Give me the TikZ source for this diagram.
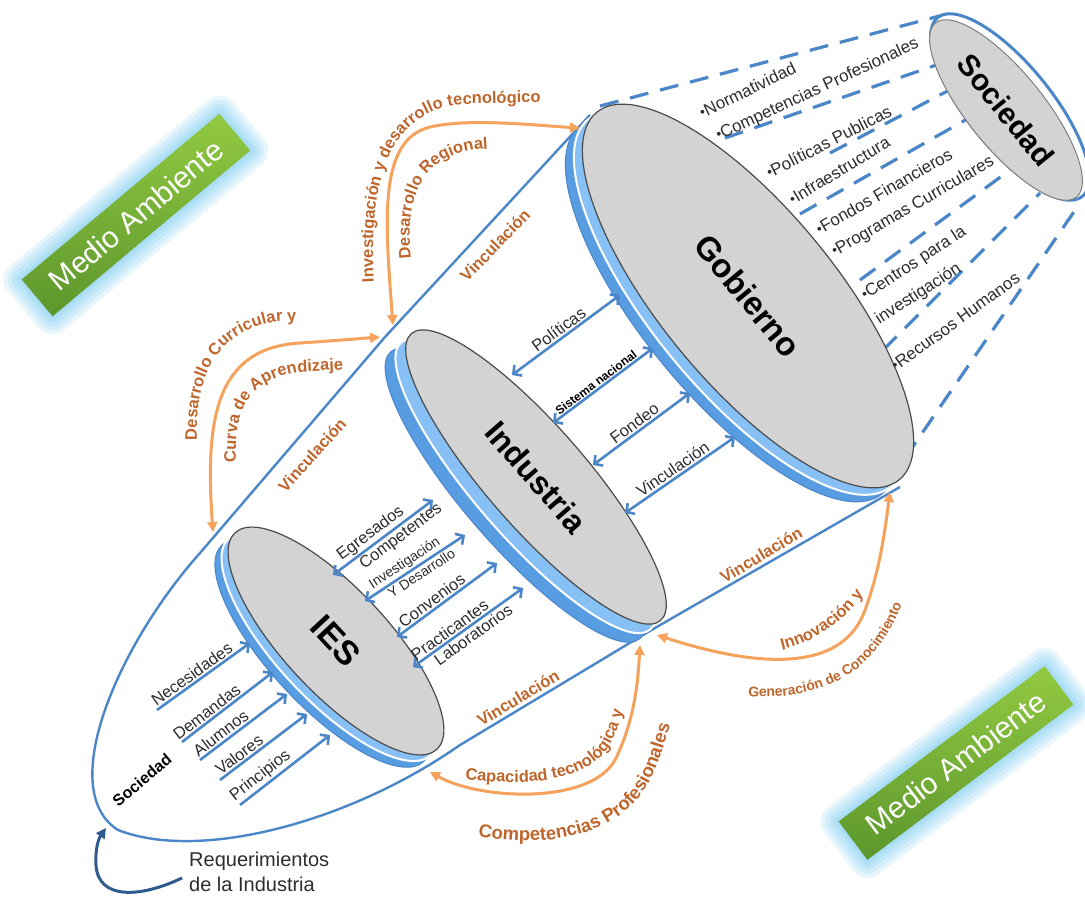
\documentclass[tikz,border=0pt]{standalone}
\usepackage{fontspec}
\setmainfont{Liberation Sans}
\usetikzlibrary{shapes.geometric,arrows.meta,decorations.text}
\definecolor{lblue}{RGB}{74,134,200}
\definecolor{rimA}{RGB}{88,156,226}
\definecolor{rimB}{RGB}{135,192,245}
\definecolor{faceg}{RGB}{211,211,211}
\definecolor{faced}{RGB}{75,75,75}
\definecolor{oarrow}{RGB}{244,162,92}
\definecolor{otext}{RGB}{190,102,44}
\definecolor{tgray}{RGB}{45,45,45}
\definecolor{gtop}{RGB}{146,202,66}
\definecolor{gbot}{RGB}{92,150,44}
\definecolor{glowc}{RGB}{110,200,240}
\definecolor{reqblue}{RGB}{47,92,140}
\newcommand\fsz[1]{\fontsize{#1}{#1}\selectfont}
\newcommand\ofont{\bfseries\fontsize{16.5}{16.5}\selectfont}
\newcommand\ofontbig{\bfseries\fontsize{18.5}{18.5}\selectfont}
\newcommand\ofontsm{\bfseries\fontsize{14}{14}\selectfont}
\newcommand\bdot{{\fsz{14}\raisebox{1pt}{•}}}
\begin{document}
\begin{tikzpicture}[x=1pt,y=-1pt,
  face/.style={ellipse, inner sep=0pt, fill=faceg, draw=faced, line width=1.2pt},
  rimo/.style={ellipse, inner sep=0pt, fill=rimA, draw=lblue, line width=1pt},
  rimi/.style={ellipse, inner sep=0pt, fill=rimB, draw=white, line width=2pt},
  outl/.style={draw=lblue, line width=2.4pt},
  dsh/.style={draw=lblue, line width=3.2pt, dash pattern=on 19pt off 12pt},
  barrow/.style={draw=lblue, line width=2.6pt, {Straight Barb[length=6pt,width=13pt]}-{Straight Barb[length=6pt,width=13pt]}},
  inarrow/.style={draw=lblue, line width=2.6pt, -{Straight Barb[length=6pt,width=13pt]}},
  oarr/.style={draw=oarrow, line width=3pt, {Triangle[length=10pt,width=10pt]}-{Triangle[length=10pt,width=10pt]}},
  lab/.style={text=tgray, font=\fsz{16.5}, inner sep=1.5pt},
  labs/.style={text=tgray, font=\fsz{14}, inner sep=1.5pt},
  vin/.style={text=otext, font=\bfseries\fsz{16.5}},
  bul/.style={text=tgray, font=\fsz{17}, anchor=west, inner sep=0pt},
  otp/.style={decorate, decoration={text along path, text color=otext, text={#1}}},
  glowl/.style={rectangle, rounded corners=#1, fill=glowc, fill opacity=0.16, draw=none, inner sep=0pt},
  mabox/.style={rectangle, inner sep=0pt, minimum width=258, minimum height=48, top color=gtop, bottom color=gbot, draw=none, text=white, font=\fsz{30}}
]
\useasboundingbox (0,0) rectangle (1085,897);
\fill[white] (0,0) rectangle (1085,897);

% ---------- Medio Ambiente boxes ----------
\foreach \g in {18,14,10,6,3} {
  \node[glowl=\g pt, rotate=40, minimum width=258+2*\g, minimum height=48+2*\g] (gla\g) at (136,215) {};
  \node[glowl=\g pt, rotate=37, minimum width=258+2*\g, minimum height=48+2*\g] (glb\g) at (956,763) {};
}
\node[mabox, rotate=40] (ma1) at (136,215) {Medio Ambiente};
\node[mabox, rotate=37] (ma2) at (956,763) {Medio Ambiente};

% ---------- dashed lines Gobierno -> Sociedad ----------
\coordinate (d1a) at (600,106);  \coordinate (d1b) at (947,14);
\coordinate (d2a) at (725,138);  \coordinate (d2b) at (945,62);
\coordinate (d3a) at (830,153);  \coordinate (d3b) at (957,86);
\coordinate (d4a) at (800,214);  \coordinate (d4b) at (967,119);
\coordinate (d5a) at (860,280);  \coordinate (d5b) at (1010,170);
\coordinate (d6a) at (883,350);  \coordinate (d6b) at (1040,193);
\coordinate (d7a) at (905,458);  \coordinate (d7b) at (1080,203);
\foreach \i in {1,...,7} { \draw[dsh] (d\i a) -- (d\i b); }

% ---------- outline (cone) ----------
\coordinate (gT) at (590,115);
\coordinate (iT) at (385,337);
\coordinate (eT) at (200,553);
\coordinate (eB) at (460,745);
\coordinate (iB) at (648,632);
\coordinate (gB) at (900,487);
\draw[outl] (gT) -- (iT) -- (eT) .. controls (118,645) and (55,790) .. (118,830)
  .. controls (200,862) and (350,822) .. (eB) -- (iB) -- (gB);

% ---------- Sociedad (top right) ----------
\node[ellipse, inner sep=0pt, minimum width=230, minimum height=84, rotate=-51, draw=lblue, fill=white, line width=3pt] (socr) at (1010,107) {};
\node[ellipse, inner sep=0pt, minimum width=224, minimum height=76, rotate=-51, fill=faceg, draw=gray, line width=1pt, font=\bfseries\fsz{30}] (soc) at (1006,110) {Sociedad};

% ---------- disks ----------
\node[rimo, minimum width=476, minimum height=174, rotate=-50.5] (gobr1) at (731.0,310.0) {};
\node[rimi, minimum width=476, minimum height=174, rotate=-50.5] (gobr2) at (739.5,303.0) {};
\node[face, minimum width=476, minimum height=174, rotate=-50.5, font=\bfseries\fsz{33}] (gob) at (748,296) {Gobierno};

\node[rimo, minimum width=380, minimum height=100, rotate=-49] (indr1) at (515.4,495.1) {};
\node[rimi, minimum width=380, minimum height=100, rotate=-49] (indr2) at (525.7,486.0) {};
\node[face, minimum width=380, minimum height=100, rotate=-49, font=\bfseries\fsz{32}] (ind) at (536,477) {Industria};

\node[rimo, minimum width=296, minimum height=104, rotate=-47] (iesr1) at (322.8,653.3) {};
\node[rimi, minimum width=296, minimum height=104, rotate=-47] (iesr2) at (329.4,647.1) {};
\node[face, minimum width=296, minimum height=104, rotate=-47, font=\bfseries\fsz{34}] (ies) at (336,641) {IES};

% ---------- bullets near Gobierno ----------
\node[bul, rotate=26] (b1) at (700,113) {\bdot Normatividad};
\node[bul, rotate=25] (b2) at (717,137) {\bdot Competencias Profesionales};
\node[bul, rotate=27] (b3) at (767,173) {\bdot Políticas Publicas};
\node[bul, rotate=31] (b4) at (790,200) {\bdot Infraestructura};
\node[bul, rotate=30] (b5) at (817,230) {\bdot Fondos Financieros};
\node[bul, rotate=30] (b6) at (833,253) {\bdot Programas Curriculares};
\node[bul, rotate=33] (b7) at (863,297) {\bdot Centros para la};
\node[bul, rotate=33] (b7b) at (877,321) {investigación};
\node[bul, rotate=36] (b8) at (893,367) {\bdot Recursos Humanos};

% ---------- Gobierno <-> Industria ----------
\coordinate (gi1a) at (512,375); \coordinate (gi1b) at (620,295);
\coordinate (gi2a) at (553,423); \coordinate (gi2b) at (653,348);
\coordinate (gi3a) at (593,465); \coordinate (gi3b) at (690,393);
\coordinate (gi4a) at (625,513); \coordinate (gi4b) at (735,437);
\draw[barrow] (gi1a) -- node[lab, sloped, above, pos=.48] (lpol) {Políticas} (gi1b);
\draw[barrow] (gi2a) -- node[sloped, above, pos=.47, inner sep=1pt, font=\bfseries\fsz{12}] (lsis) {Sistema nacional} (gi2b);
\draw[barrow] (gi3a) -- node[lab, sloped, above, pos=.48] (lfon) {Fondeo} (gi3b);
\draw[barrow] (gi4a) -- node[lab, sloped, above, pos=.48] (lvin) {Vinculación} (gi4b);

% ---------- Industria <-> IES ----------
\coordinate (ie1a) at (333,575); \coordinate (ie1b) at (433,500);
\coordinate (ie2a) at (365,601); \coordinate (ie2b) at (465,535);
\coordinate (ie3a) at (397,637); \coordinate (ie3b) at (497,563);
\coordinate (ie4a) at (413,667); \coordinate (ie4b) at (523,588);
\draw[barrow] (ie1a) -- node[lab, sloped, above, pos=.44] (legr) {Egresados}
  node[lab, sloped, below, pos=.62] (lcom) {Competentes} (ie1b);
\draw[barrow] (ie2a) -- node[labs, sloped, above, pos=.45] (linv) {Investigación}
  node[labs, sloped, below, pos=.52] (lyde) {Y Desarrollo} (ie2b);
\draw[barrow] (ie3a) -- node[lab, sloped, above, pos=.4] (lcon) {Convenios} (ie3b);
\draw[barrow] (ie4a) -- node[lab, sloped, above, pos=.38] (lpra) {Practicantes}
  node[lab, sloped, below, pos=.5] (llab) {Laboratorios} (ie4b);

% ---------- Sociedad -> IES ----------
\coordinate (s1a) at (157,710); \coordinate (s1b) at (250,643);
\coordinate (s2a) at (182,742); \coordinate (s2b) at (273,672);
\coordinate (s3a) at (200,760); \coordinate (s3b) at (287,694);
\coordinate (s4a) at (220,780); \coordinate (s4b) at (307,714);
\coordinate (s5a) at (240,805); \coordinate (s5b) at (330,735);
\draw[inarrow] (s1a) -- node[lab, sloped, above, pos=.43] (lnec) {Necesidades} (s1b);
\draw[inarrow] (s2a) -- node[lab, sloped, above, pos=.33] (ldem) {Demandas} (s2b);
\draw[inarrow] (s3a) -- node[lab, sloped, above, pos=.3] (lalu) {Alumnos} (s3b);
\draw[inarrow] (s4a) -- node[lab, sloped, above, pos=.28] (lval) {Valores} (s4b);
\draw[inarrow] (s5a) -- node[lab, sloped, above, pos=.3] (lpri) {Principios} (s5b);
\node[font=\bfseries\fsz{16}, rotate=40] (socl) at (142,780) {Sociedad};

% ---------- orange arrows ----------
\coordinate (o1a) at (393,325); \coordinate (o1b) at (580,128);
\coordinate (o2a) at (213,532); \coordinate (o2b) at (380,337);
\coordinate (o3a) at (430,772); \coordinate (o3b) at (640,645);
\coordinate (o4a) at (657,635); \coordinate (o4b) at (890,492);
\draw[oarr] (o1a) .. controls (385,220) and (378,140) .. (430,127) .. controls (470,118) and (530,125) .. (o1b);
\draw[oarr] (o2b) .. controls (355,339) and (330,341) .. (300,343) .. controls (215,348) and (205,420) .. (o2a);
\draw[oarr] (o3a) .. controls (480,800) and (590,805) .. (615,760) .. controls (635,720) and (638,680) .. (o3b);
\draw[oarr] (o4a) .. controls (740,662) and (840,680) .. (865,610) .. controls (880,570) and (885,530) .. (o4b);

% ---------- orange curved texts ----------
\path[otp={|\ofont|Investigación y desarrollo tecnológico}] (374,282) .. controls (368,178) and (390,110) .. (465,104) -- (660,100);
\path[otp={|\ofont|Desarrollo Regional}] (411,258) .. controls (405,200) and (420,160) .. (470,150) -- (620,140);
\path[otp={|\ofont|Desarrollo Curricular y}] (197,440) .. controls (195,370) and (220,332) .. (275,322) -- (420,315);
\path[otp={|\ofont|Curva de Aprendizaje}] (236,462) .. controls (234,405) and (250,380) .. (300,372) -- (440,365);
\path[otp={|\ofont|Capacidad tecnológica y}] (465,779) .. controls (540,788) and (590,778) .. (610,745) .. controls (622,722) and (628,700) .. (634,620);
\path[otp={|\ofontbig|Competencias Profesionales}] (478,836) .. controls (540,848) and (598,838) .. (632,805) .. controls (652,785) and (666,755) .. (690,640);
\path[otp={|\ofont|Innovación y}] (782,650) .. controls (815,642) and (848,620) .. (870,585) -- (900,540);
\path[otp={|\ofontsm|Generación de Conocimiento}] (748,696) .. controls (790,700) and (830,690) .. (858,668) .. controls (885,645) and (900,620) .. (920,550);

% ---------- Vinculación labels on the cone ----------
\node[vin, rotate=46] (v1) at (495,245) {Vinculación};
\node[vin, rotate=48] (v2) at (312,455) {Vinculación};
\node[vin, rotate=31] (v3) at (518,698) {Vinculación};
\node[vin, rotate=31] (v4) at (761,555) {Vinculación};

% ---------- Requerimientos ----------
\node[anchor=north west, align=left, text=tgray, font=\fontsize{20}{25}\selectfont, inner sep=0pt] (req) at (189,852) {Requerimientos\\de la Industria};
\coordinate (r0) at (182,878); \coordinate (r1) at (106,828);
\draw[draw=reqblue, line width=3pt, -{Triangle[length=10pt,width=10pt]}] (r0) .. controls (140,898) and (98,900) .. (96,865) .. controls (95,848) and (99,838) .. (r1);
\end{tikzpicture}
\end{document}
